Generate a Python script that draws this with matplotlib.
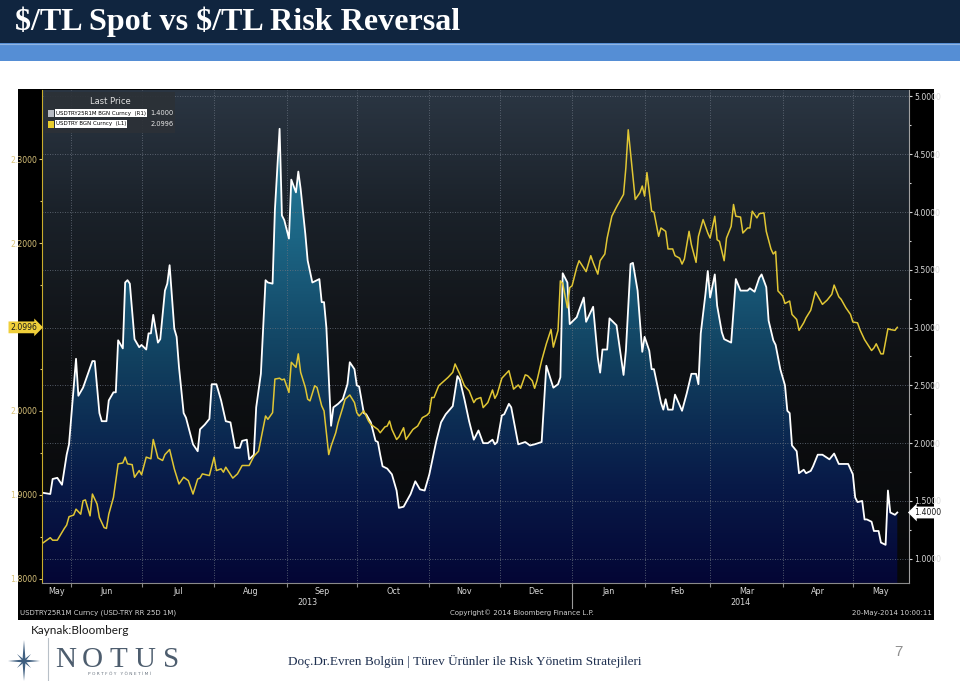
import numpy as np
import pandas as pd
import matplotlib
matplotlib.use('Agg')
import matplotlib.pyplot as plt
import matplotlib.dates as mdates
import matplotlib.transforms as mtrans
from matplotlib.colors import LinearSegmentedColormap
from matplotlib.patches import Rectangle, Polygon
from matplotlib.lines import Line2D

# values (days counted from 20-May-2013)
start_date = '2013-05-20'

# USDTRY25R1M (1M 25D risk reversal), right axis
rr_day = [0, 3, 4, 6, 8, 10, 11, 14, 15, 17,
          21, 22, 24, 25, 27, 28, 30, 31, 32, 34,
          35, 36, 37, 39, 41, 42, 44, 45, 46, 47,
          49, 50, 52, 53, 54, 56, 57, 58, 60, 61,
          64, 66, 67, 69, 71, 72, 74, 76, 78, 80,
          82, 84, 85, 87, 88, 90, 91, 93, 95, 96,
          98, 99, 101, 102, 103, 105, 106, 108, 109, 110,
          112, 113, 115, 117, 118, 119, 120, 121, 123, 124,
          126, 128, 130, 131, 133, 134, 135, 137, 138, 140,
          142, 143, 144, 145, 147, 149, 151, 152, 154, 157,
          159, 161, 163, 165, 168, 170, 172, 175, 177, 178,
          180, 182, 184, 186, 188, 190, 192, 193, 194, 196,
          197, 199, 200, 203, 206, 208, 210, 213, 215, 218,
          220, 221, 222, 224, 225, 228, 229, 231, 232, 235,
          237, 238, 239, 241, 242, 245, 248, 249, 251, 252,
          254, 256, 257, 259, 260, 261, 264, 265, 266, 267,
          269, 270, 273, 275, 277, 279, 280, 281, 283, 284,
          285, 287, 288, 290, 291, 294, 295, 296, 298, 301,
          302, 304, 306, 307, 309, 310, 312, 313, 315, 317,
          318, 319, 320, 322, 323, 325, 326, 328, 329, 331,
          333, 336, 338, 340, 342, 344, 346, 347, 348, 350,
          351, 352, 354, 355, 357, 358, 360, 361, 362, 364,
          365]
rr_value = [1.57, 1.56, 1.69, 1.70, 1.64, 1.90, 1.99, 2.73, 2.41, 2.48,
            2.71, 2.71, 2.26, 2.19, 2.19, 2.37, 2.44, 2.44, 2.89, 2.82,
            3.39, 3.41, 3.38, 2.90, 2.83, 2.85, 2.81, 2.95, 2.95, 3.11,
            2.87, 2.90, 3.32, 3.38, 3.54, 2.99, 2.92, 2.66, 2.26, 2.22,
            1.99, 1.93, 2.12, 2.16, 2.21, 2.51, 2.51, 2.37, 2.19, 2.18,
            1.96, 1.96, 2.02, 2.03, 1.86, 1.90, 2.31, 2.60, 3.41, 3.39,
            3.38, 4.02, 4.72, 3.97, 3.93, 3.77, 4.28, 4.17, 4.35, 4.20,
            3.81, 3.58, 3.39, 3.41, 3.42, 3.22, 3.22, 3.00, 2.15, 2.31,
            2.34, 2.38, 2.51, 2.70, 2.64, 2.50, 2.49, 2.26, 2.25, 2.18,
            2.02, 2.01, 1.90, 1.80, 1.78, 1.73, 1.59, 1.44, 1.45, 1.56,
            1.67, 1.60, 1.59, 1.73, 2.02, 2.18, 2.25, 2.32, 2.58, 2.55,
            2.38, 2.19, 2.03, 2.11, 2.00, 2.00, 2.03, 1.99, 2.01, 2.24,
            2.25, 2.34, 2.31, 1.99, 2.01, 1.98, 1.99, 2.01, 2.67, 2.48,
            2.51, 2.57, 3.47, 3.39, 3.03, 3.09, 3.15, 3.26, 3.05, 3.18,
            2.74, 2.61, 2.81, 2.81, 3.08, 3.02, 2.59, 2.80, 3.55, 3.56,
            3.32, 2.79, 2.92, 2.80, 2.64, 2.64, 2.35, 2.29, 2.38, 2.29,
            2.29, 2.42, 2.28, 2.43, 2.60, 2.60, 2.51, 2.95, 3.29, 3.49,
            3.26, 3.46, 3.19, 2.96, 2.90, 2.87, 3.15, 3.42, 3.32, 3.32,
            3.34, 3.31, 3.43, 3.46, 3.35, 3.06, 2.89, 2.85, 2.64, 2.50,
            2.28, 2.26, 1.98, 1.93, 1.74, 1.77, 1.74, 1.76, 1.80, 1.90,
            1.90, 1.86, 1.91, 1.82, 1.82, 1.82, 1.73, 1.53, 1.49, 1.50,
            1.34, 1.34, 1.32, 1.24, 1.24, 1.14, 1.12, 1.59, 1.40, 1.38,
            1.40]

# USDTRY spot, left axis
spot_day = [0, 3, 4, 6, 9, 10, 11, 13, 14, 16,
            17, 18, 20, 21, 23, 24, 26, 27, 28, 30,
            32, 34, 35, 36, 38, 39, 41, 42, 44, 46,
            47, 49, 51, 52, 54, 56, 58, 60, 62, 64,
            66, 67, 68, 71, 73, 74, 76, 77, 78, 81,
            83, 85, 88, 90, 92, 95, 96, 98, 99, 101,
            102, 103, 105, 106, 108, 109, 110, 112, 113, 114,
            116, 117, 119, 120, 122, 123, 125, 126, 128, 129,
            131, 133, 134, 135, 137, 139, 140, 141, 143, 144,
            146, 147, 148, 149, 151, 152, 154, 155, 157, 158,
            160, 162, 164, 165, 166, 167, 169, 171, 173, 175,
            176, 178, 180, 182, 184, 185, 187, 188, 190, 192,
            193, 194, 196, 199, 201, 203, 204, 206, 207, 209,
            210, 211, 213, 215, 217, 218, 220, 221, 222, 224,
            225, 226, 228, 229, 232, 234, 235, 237, 238, 240,
            241, 243, 245, 248, 249, 250, 252, 253, 255, 256,
            257, 258, 260, 261, 263, 264, 266, 267, 269, 270,
            272, 273, 274, 276, 277, 279, 280, 282, 284, 285,
            287, 288, 289, 291, 292, 294, 295, 296, 298, 299,
            301, 302, 303, 305, 306, 308, 309, 311, 312, 313,
            314, 316, 317, 319, 320, 322, 323, 325, 326, 328,
            330, 331, 333, 335, 337, 338, 340, 341, 343, 345,
            346, 348, 349, 351, 354, 355, 356, 358, 359, 361,
            362, 364, 365]
spot_value = [1.843, 1.849, 1.846, 1.846, 1.860, 1.864, 1.874, 1.876, 1.883, 1.877,
              1.893, 1.894, 1.875, 1.901, 1.889, 1.873, 1.861, 1.860, 1.877, 1.897,
              1.937, 1.938, 1.945, 1.937, 1.936, 1.921, 1.929, 1.924, 1.945, 1.943,
              1.966, 1.944, 1.941, 1.948, 1.954, 1.931, 1.913, 1.921, 1.917, 1.901,
              1.919, 1.920, 1.925, 1.923, 1.945, 1.929, 1.931, 1.927, 1.933, 1.920,
              1.925, 1.935, 1.935, 1.946, 1.952, 1.994, 1.990, 1.998, 2.038, 2.039,
              2.037, 2.038, 2.022, 2.058, 2.052, 2.068, 2.046, 2.028, 2.014, 2.012,
              2.030, 2.028, 2.006, 2.000, 1.948, 1.958, 1.974, 1.986, 2.004, 2.014,
              2.019, 2.010, 1.998, 1.994, 2.000, 1.988, 1.984, 1.982, 1.978, 1.974,
              1.981, 1.982, 1.988, 1.978, 1.966, 1.969, 1.980, 1.966, 1.974, 1.978,
              1.982, 1.992, 1.995, 1.998, 2.016, 2.016, 2.030, 2.035, 2.040, 2.046,
              2.056, 2.044, 2.030, 2.024, 2.010, 2.014, 2.016, 2.004, 2.010, 2.025,
              2.015, 2.020, 2.039, 2.048, 2.026, 2.031, 2.027, 2.043, 2.042, 2.036,
              2.027, 2.036, 2.060, 2.080, 2.097, 2.076, 2.096, 2.155, 2.152, 2.123,
              2.147, 2.149, 2.171, 2.179, 2.166, 2.185, 2.177, 2.163, 2.179, 2.187,
              2.206, 2.232, 2.243, 2.258, 2.290, 2.335, 2.280, 2.252, 2.260, 2.268,
              2.256, 2.284, 2.238, 2.237, 2.208, 2.218, 2.214, 2.193, 2.193, 2.185,
              2.182, 2.175, 2.181, 2.214, 2.198, 2.177, 2.208, 2.228, 2.212, 2.206,
              2.232, 2.204, 2.202, 2.179, 2.206, 2.220, 2.246, 2.232, 2.231, 2.212,
              2.218, 2.218, 2.238, 2.230, 2.235, 2.236, 2.214, 2.193, 2.187, 2.190,
              2.143, 2.137, 2.128, 2.131, 2.115, 2.109, 2.096, 2.105, 2.111, 2.120,
              2.142, 2.137, 2.127, 2.132, 2.139, 2.150, 2.136, 2.133, 2.123, 2.115,
              2.106, 2.105, 2.097, 2.085, 2.072, 2.075, 2.080, 2.068, 2.068, 2.098,
              2.097, 2.096, 2.0996]

spot_ticks = [1.8, 1.9, 2.0, 2.1, 2.2, 2.3]
rr_ticks = [1.0, 1.5, 2.0, 2.5, 3.0, 3.5, 4.0, 4.5, 5.0]
years = ['2013', '2014']
rr_name = 'USDTRY25R1M BGN Curncy  (R1)'
spot_name = 'USDTRY BGN Curncy  (L1)'
last_rr = 1.4000
last_spot = 2.0996

W, H = 960, 681
def fx(px):
    return px / W
def fy(py):
    return 1 - py / H

bbg = ['Liberation Sans Narrow', 'DejaVu Sans']

fig = plt.figure(figsize=(W / 100, H / 100), dpi=100)
fig.patch.set_facecolor('white')

# slide header
fig.add_artist(Rectangle((0, fy(43)), 1, 43 / H, transform=fig.transFigure,
                         facecolor='#10253f', edgecolor='none', zorder=0.1))
fig.add_artist(Rectangle((0, fy(61)), 1, 18 / H, transform=fig.transFigure,
                         facecolor='#558ed5', edgecolor='none', zorder=0.1))
fig.add_artist(Line2D([0, 1], [fy(43.5), fy(43.5)], transform=fig.transFigure,
                      color='#8fb4e3', lw=0.8, zorder=0.15))
fig.text(fx(15), fy(22), '$/TL Spot vs $/TL Risk Reversal', parse_math=False,
         family='Liberation Serif', weight='bold', size=23.1, color='white',
         va='center', ha='left')

# black bloomberg frame
fig.add_artist(Rectangle((fx(18), fy(619.5)), 916 / W, 530.5 / H, transform=fig.transFigure,
                         facecolor='black', edgecolor='none', zorder=0.2))

ax = fig.add_axes([fx(42), fy(583), 867 / W, (583 - 89.5) / H])
ax2 = ax.twinx()
ax.set_zorder(2)
ax2.set_zorder(1)
ax.patch.set_visible(False)
ax2.patch.set_facecolor('black')

base = pd.Timestamp(start_date)
rr_x = mdates.date2num((base + pd.to_timedelta(rr_day, unit='D')).values)
spot_x = mdates.date2num((base + pd.to_timedelta(spot_day, unit='D')).values)
x0 = mdates.date2num(np.datetime64(base - pd.Timedelta(hours=13)))
x1 = mdates.date2num(np.datetime64(base + pd.Timedelta(days=370)))
ylo, yhi = 0.79, 5.06

# background gradient
bg_cmap = LinearSegmentedColormap.from_list(
    'bg', [(0, '#060708'), (0.45, '#0f1114'), (0.75, '#1a2129'), (1, '#2b3643')])
ax2.imshow(np.linspace(0, 1, 256).reshape(-1, 1), extent=[0, 1, 0, 1],
           transform=ax2.transAxes, cmap=bg_cmap, origin='lower',
           aspect='auto', zorder=0)

# area under the risk reversal
fill_cmap = LinearSegmentedColormap.from_list(
    'fill', [(0, '#040635'), (0.2, '#081a48'), (0.45, '#11405f'),
             (0.7, '#1c6584'), (1, '#2d8aa6')])
area = ax2.fill_between(rr_x, rr_value, 0, facecolor='none', edgecolor='none')
grad = ax2.imshow(np.linspace(0, 1, 256).reshape(-1, 1), extent=[x0, x1, ylo, yhi],
                  cmap=fill_cmap, origin='lower', aspect='auto', zorder=1)
grad.set_clip_path(area.get_paths()[0], transform=ax2.transData)

# dotted grid
month_starts = pd.date_range('2013-06-01', '2014-05-01', freq='MS')
ms_x = mdates.date2num(month_starts.values)
for t in rr_ticks:
    ax2.axhline(t, color='#6a7380', lw=0.6, ls=(0, (1, 2)), zorder=2)
for m in ms_x:
    ax2.axvline(m, color='#6a7380', lw=0.6, ls=(0, (1, 2)), zorder=2)

ax2.plot(rr_x, rr_value, color='white', lw=1.3, zorder=3)
ax.plot(spot_x, spot_value, color='#e0c634', lw=1.1, zorder=3)

ax.set_xlim(x0, x1)
ax2.set_xlim(x0, x1)
ax.set_ylim(1.795, 2.383)
ax2.set_ylim(ylo, yhi)

for s in ['top', 'right']:
    ax.spines[s].set_visible(False)
ax.spines['left'].set_color('#c9ad2c')
ax.spines['bottom'].set_color('#8a8a8a')
for s in ['top', 'left', 'bottom']:
    ax2.spines[s].set_visible(False)
ax2.spines['right'].set_color('#a0a0a0')

# left axis (the 2.1000 label is covered by the last price tag)
ax.set_yticks(spot_ticks, ['' if abs(v - 2.1) < 1e-9 else f'{v:.4f}' for v in spot_ticks])
ax.set_yticks([v + 0.05 for v in spot_ticks[:-1]], minor=True)
ax.tick_params(axis='y', which='both', colors='#d8c27a', labelsize=5.6, length=2.5,
               width=0.8, pad=1)
ax.tick_params(axis='y', which='minor', length=1.5)
for lab in ax.get_yticklabels():
    lab.set_family(bbg)

# right axis
ax2.set_yticks(rr_ticks, [f'{v:.4f}' for v in rr_ticks])
ax2.set_yticks([v + 0.25 for v in rr_ticks[:-1]], minor=True)
ax2.tick_params(axis='y', which='both', colors='#d8d8d8', labelsize=5.6, length=2.5,
                width=0.8, pad=1)
ax2.tick_params(axis='y', which='minor', length=1.5)
for lab in ax2.get_yticklabels():
    lab.set_family(bbg)

# months
edges = np.concatenate([[x0], ms_x, [x1]])
centers = (edges[:-1] + edges[1:]) / 2
month_labels = [mdates.num2date(e).strftime('%b') for e in edges[:-1] + 1]
ax.set_xticks(ms_x, [''] * len(ms_x))
ax.set_xticks(centers, month_labels, minor=True)
ax.tick_params(axis='x', which='major', length=3, color='#8a8a8a')
ax.tick_params(axis='x', which='minor', length=0, labelsize=5.8, colors='#d8d8d8', pad=3)
for lab in ax.get_xticklabels(minor=True):
    lab.set_family(bbg)

jan1 = mdates.date2num(np.datetime64('2014-01-01'))
blend = mtrans.blended_transform_factory(ax.transData, ax.transAxes)
ax.plot([jan1, jan1], [0, -0.05], transform=blend, clip_on=False, color='#9a9a9a', lw=0.8)
for yr, (a, b) in zip(years, [(x0, jan1), (jan1, x1)]):
    ax.text((a + b) / 2, -0.039, yr, transform=blend, ha='center', va='center',
            size=5.8, color='#d8d8d8', family=bbg, clip_on=False)

# last price tags
ax.text(-0.006, last_spot, f'{last_spot:.4f}',
        transform=mtrans.blended_transform_factory(ax.transAxes, ax.transData),
        ha='right', va='center', size=5.6, color='#1a1a1a', family=bbg, clip_on=False,
        bbox=dict(boxstyle='rarrow,pad=0.18', fc='#f0cf3a', ec='none'), zorder=6)
ax2.text(1.006, last_rr, f'{last_rr:.4f}',
         transform=mtrans.blended_transform_factory(ax2.transAxes, ax2.transData),
         ha='left', va='center', size=5.6, color='#1a1a1a', family=bbg, clip_on=False,
         bbox=dict(boxstyle='larrow,pad=0.18', fc='white', ec='none'), zorder=6)

# legend box
fig.add_artist(Rectangle((fx(45), fy(133)), 130 / W, 41 / H, transform=fig.transFigure,
                         facecolor='#2c3137', edgecolor='none', alpha=0.92, zorder=5))
fig.text(fx(110), fy(102), 'Last Price', ha='center', va='center', size=6,
         color='#e0e0e0', family=bbg, zorder=6)
for row_y, name, col, val in [(113, rr_name, '#b8bcc4', last_rr),
                              (124, spot_name, '#e8cc2c', last_spot)]:
    fig.add_artist(Rectangle((fx(48), fy(row_y + 3.5)), 6 / W, 7 / H,
                             transform=fig.transFigure, facecolor=col,
                             edgecolor='none', zorder=6))
    fig.text(fx(56), fy(row_y), name, ha='left', va='center', size=4.0, color='black',
             family=bbg, zorder=6,
             bbox=dict(boxstyle='square,pad=0.2', fc='white', ec='none'))
    fig.text(fx(174), fy(row_y), f'{val:.4f}', ha='right', va='center', size=4.8,
             color='#e8e8e8', family=bbg, zorder=6)

# bottom line of the terminal
fig.text(fx(20), fy(613), 'USDTRY25R1M Curncy (USD-TRY RR 25D 1M)', ha='left',
         va='center', size=5, color='#d0d0d0', family=bbg, zorder=6)
fig.text(fx(450), fy(613), 'Copyright\u00a9 2014 Bloomberg Finance L.P.', ha='left',
         va='center', size=5, color='#d0d0d0', family=bbg, zorder=6)
fig.text(fx(932), fy(613), '20-May-2014 10:00:11', ha='right',
         va='center', size=5, color='#d0d0d0', family=bbg, zorder=6)

# source + footer
fig.text(fx(31), fy(630), 'Kaynak:Bloomberg', ha='left', va='center', size=8.5,
         color='#1a1a1a', family='Lato')
fig.text(fx(288), fy(661), 'Doç.Dr.Evren Bolgün | Türev Ürünler ile Risk Yönetim Stratejileri',
         ha='left', va='center', size=9.5, color='#1f3050', family='Liberation Serif')
fig.text(fx(898), fy(652), '7', ha='center', va='center', size=11, color='#8e8e8e',
         family='Liberation Sans')

# NOTUS logo
for i, ch in enumerate('NOTUS'):
    fig.text(fx(66 + i * 26.3), fy(667), ch, ha='center', va='baseline', size=21,
             color='#4d5d6e', family='Liberation Serif')
fig.text(fx(120), fy(674), 'P O R T F Ö Y   Y Ö N E T İ M İ', ha='center', va='center',
         size=3.2, color='#6a7480', family='DejaVu Sans')
fig.add_artist(Line2D([fx(48), fx(48)], [fy(638), fy(681)], transform=fig.transFigure,
                      color='#b8c0c8', lw=0.8))
cx, cy = 24, 661
for ang, L, w in [(90, 21, 1.6), (270, 20, 1.6), (0, 16, 1.5), (180, 16, 1.5),
                  (45, 10, 1.1), (135, 10, 1.1), (225, 10, 1.1), (315, 10, 1.1)]:
    a = np.deg2rad(ang)
    tip = (cx + L * np.cos(a), cy - L * np.sin(a))
    s1 = (cx + w * np.cos(a + np.pi / 2), cy - w * np.sin(a + np.pi / 2))
    s2 = (cx - w * np.cos(a + np.pi / 2), cy + w * np.sin(a + np.pi / 2))
    pts = [(fx(p[0]), fy(p[1])) for p in [tip, s1, (cx, cy), s2]]
    fig.add_artist(Polygon(pts, closed=True, transform=fig.transFigure,
                           facecolor='#3f5f80', edgecolor='none'))

fig.savefig('out.png', dpi=100, facecolor='white')
